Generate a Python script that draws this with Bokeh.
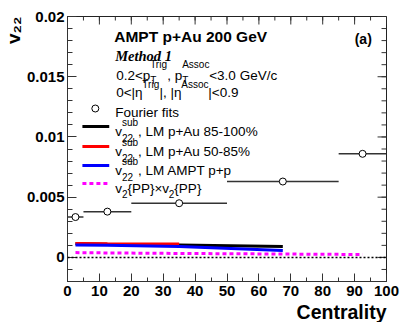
from bokeh.plotting import figure
from bokeh.models import Label, FixedTicker, Span, Title
from bokeh.embed import file_html
from bokeh.resources import INLINE

# ---------------- data ----------------
fourier_x = [2.5, 12.5, 35.0, 67.5, 92.5]
fourier_lo = [0.0, 5.0, 20.0, 50.0, 85.0]
fourier_hi = [5.0, 20.0, 50.0, 85.0, 100.0]
fourier_y = [0.00335, 0.0038, 0.0045, 0.0063, 0.0086]

lm_x = [2.5, 12.5, 35.0, 67.5]
lm_85_100 = [0.00113, 0.00110, 0.00104, 0.00090]
lm_50_85_x = [2.5, 12.5, 35.0]
lm_50_85 = [0.00116, 0.00114, 0.00111]
lm_pp = [0.00103, 0.00100, 0.00091, 0.00058]

pp_x = [2.5, 12.5, 35.0, 67.5, 92.5]
pp_y = [0.00040, 0.00037, 0.00033, 0.00028, 0.00024]

x_ticks = [0, 10, 20, 30, 40, 50, 60, 70, 80, 90, 100]
x_minor = [0, 5, 10, 15, 20, 25, 30, 35, 40, 45, 50, 55, 60, 65, 70, 75, 80, 85, 90, 95, 100]
y_ticks = [0, 0.005, 0.01, 0.015, 0.02]
y_tick_labels = ["0", "0.005", "0.01", "0.015", "0.02"]
y_minor = [-0.002, -0.001, 0.0, 0.001, 0.002, 0.003, 0.004, 0.005, 0.006, 0.007, 0.008,
           0.009, 0.010, 0.011, 0.012, 0.013, 0.014, 0.015, 0.016, 0.017, 0.018, 0.019, 0.020]

# ---------------- layout ----------------
FL, FT, FW, FH = 65, 16, 321, 265   # frame in window pixels
XR = (0, 100)
YR = (-0.002, 0.02)
WIDTH, HEIGHT = 404, 322
BL, BT = FL, FT
BR = WIDTH - BL - FW
BB = HEIGHT - BT - FH


def X(px):
    return XR[0] + (px - FL) / FW * (XR[1] - XR[0])


def Y(py):
    return YR[1] - (py - FT) / FH * (YR[1] - YR[0])


DX = (XR[1] - XR[0]) / FW    # data units per pixel
DY = (YR[1] - YR[0]) / FH

p = figure(width=WIDTH, height=HEIGHT, x_range=XR, y_range=YR,
           output_backend="svg", toolbar_location=None,
           min_border_left=BL, min_border_right=BR, min_border_top=BT, min_border_bottom=BB)
p.outline_line_color = "#222222"
p.outline_line_width = 1
p.xgrid.visible = False
p.ygrid.visible = False
p.background_fill_color = "white"
p.border_fill_color = "white"

FONT = "Liberation Sans"
AXC = "#333333"


def style_axis(ax, maj, mino):
    ax.axis_line_color = AXC
    ax.axis_line_width = 1
    ax.major_tick_line_color = AXC
    ax.minor_tick_line_color = AXC
    ax.major_tick_in = maj
    ax.major_tick_out = 0
    ax.minor_tick_in = mino
    ax.minor_tick_out = 0
    ax.major_label_text_font = FONT
    ax.major_label_text_font_style = "bold"
    ax.major_label_text_font_size = "15px"
    ax.major_label_text_color = "black"


xa = p.xaxis[0]
xa.ticker = FixedTicker(ticks=x_ticks, minor_ticks=x_minor)
style_axis(xa, 8, 4)
xa.major_label_standoff = 4

ya = p.yaxis[0]
ya.ticker = FixedTicker(ticks=y_ticks, minor_ticks=y_minor)
ya.major_label_overrides = {t: s for t, s in zip(y_ticks, y_tick_labels)}
style_axis(ya, 9, 5)
ya.major_label_standoff = 3

# mirrored inward ticks on the right and top edges
p.segment(x0=[XR[1] - 9 * DX] * len(y_ticks), x1=[XR[1]] * len(y_ticks),
          y0=y_ticks, y1=y_ticks, line_color=AXC, line_width=1)
p.segment(x0=[XR[1] - 5 * DX] * len(y_minor), x1=[XR[1]] * len(y_minor),
          y0=y_minor, y1=y_minor, line_color=AXC, line_width=1)
p.segment(x0=x_ticks, x1=x_ticks, y0=[YR[1] - 8 * DY] * len(x_ticks),
          y1=[YR[1]] * len(x_ticks), line_color=AXC, line_width=1)
p.segment(x0=x_minor, x1=x_minor, y0=[YR[1] - 4 * DY] * len(x_minor),
          y1=[YR[1]] * len(x_minor), line_color=AXC, line_width=1)

# zero reference line
p.add_layout(Span(location=0, dimension="width", line_color="black",
                  line_width=1.5, line_dash="2 2"))

# ---------------- curves ----------------
p.line(lm_x, lm_85_100, line_color="black", line_width=3)
p.line(lm_50_85_x, lm_50_85, line_color="#ff0000", line_width=3)
p.line(lm_x, lm_pp, line_color="#0000ff", line_width=3)
p.line(pp_x, pp_y, line_color="#ff00ff", line_width=3, line_dash="4 3")

# Fourier fits
p.segment(x0=fourier_lo, x1=fourier_hi, y0=fourier_y, y1=fourier_y,
          line_color="#333333", line_width=1.5)
p.scatter(fourier_x, fourier_y, marker="circle", size=7, fill_color="white",
          line_color="black", line_width=1)

# ---------------- text helpers ----------------
W = {'0': .556, '1': .556, '2': .556, '3': .556, '4': .556, '5': .556, '6': .556, '7': .556,
     '8': .556, '9': .556, '.': .278, '<': .584, 'p': .556, 'T': .611, 'r': .333, 'i': .222,
     'g': .556, ',': .278, ' ': .278, 'A': .667, 's': .5, 'o': .556, 'c': .5, 'G': .778,
     'e': .556, 'V': .667, '/': .278, '|': .26, 'η': .55, 'v': .5, 'u': .556, 'b': .556,
     'L': .556, 'M': .833, '+': .584, '-': .333, '%': .889, '{': .334, '}': .334, 'P': .667,
     '×': .584, 'F': .611, 'f': .278, 't': .278}


def tw(s, size):
    return sum(W.get(c, 0.556) for c in s) * size


def put(px, py, text, size, style="normal", font=FONT, align="left",
        baseline="alphabetic", color="black"):
    p.add_layout(Label(x=X(px), y=Y(py), text=text, text_font=font,
                       text_font_size=f"{size}px", text_font_style=style,
                       text_align=align, text_baseline=baseline,
                       text_color=color))


def rich(px, py, runs):
    x = px
    for r in runs:
        kind = r[0]
        if kind == "t":
            _, s, size = r
            put(x, py, s, size)
            x += tw(s, size)
        elif kind == "ss":
            _, sup, sub, size, dsup, dsub = r
            w = 0
            if sup:
                put(x, py + dsup, sup, size)
                w = max(w, tw(sup, size))
            if sub:
                put(x, py + dsub, sub, size)
                w = max(w, tw(sub, size))
            x += w


TS = 13.5   # main legend text size
SS = 10     # script size

put(112, 36, "AMPT p+Au 200 GeV", 15.5, style="bold")
put(113, 55, "Method 1", 14.5, style="bold italic", font="Liberation Serif")
rich(114, 75, [("t", "0.2<p", TS), ("ss", "Trig", "T", SS, -11, 5),
               ("t", ", p", TS), ("ss", "Assoc", "T", SS, -11, 5),
               ("t", "<3.0 GeV/c", TS)])
rich(114, 92, [("t", "0<|η", TS), ("ss", "Trig", None, SS, -8, 0),
               ("t", "|, |η", TS), ("ss", "Assoc", None, SS, -8, 0),
               ("t", "|<0.9", TS)])

put(354, 38, "(a)", 14, style="bold")

# legend
put(113, 112, "Fourier fits", TS)
p.scatter([X(93)], [Y(108)], marker="circle", size=7, fill_color="white",
          line_color="black", line_width=1)

legend_rows = [
    (126, "black", ", LM p+Au 85-100%"),
    (146, "#ff0000", ", LM p+Au 50-85%"),
    (165, "#0000ff", ", LM AMPT p+p"),
]
for ly, col, txt in legend_rows:
    p.line([X(80), X(107)], [Y(ly), Y(ly)], line_color=col, line_width=3)
    rich(113, ly + 5, [("t", "v", TS), ("ss", "sub", "22", SS, -9, 6), ("t", txt, TS)])

p.line([X(80), X(107)], [Y(183), Y(183)], line_color="#ff00ff", line_width=3, line_dash="4 3")
rich(113, 188, [("t", "v", TS), ("ss", None, "2", SS, 0, 5), ("t", "{PP}×v", TS),
                ("ss", None, "2", SS, 0, 5), ("t", "{PP}", TS)])

# axis titles (as side titles so they sit outside the frame)
xt = Title(text="Centrality", align="right", text_font=FONT, text_font_style="bold",
           text_font_size="19.5px", text_color="black", standoff=0, offset=0)
p.add_layout(xt, "below")
yt = Title(text="v₂₂", align="right", text_font=FONT, text_font_style="bold",
           text_font_size="19px", text_color="black", standoff=0, offset=0)
p.add_layout(yt, "left")

open("out.html", "w").write(file_html(p, INLINE))
